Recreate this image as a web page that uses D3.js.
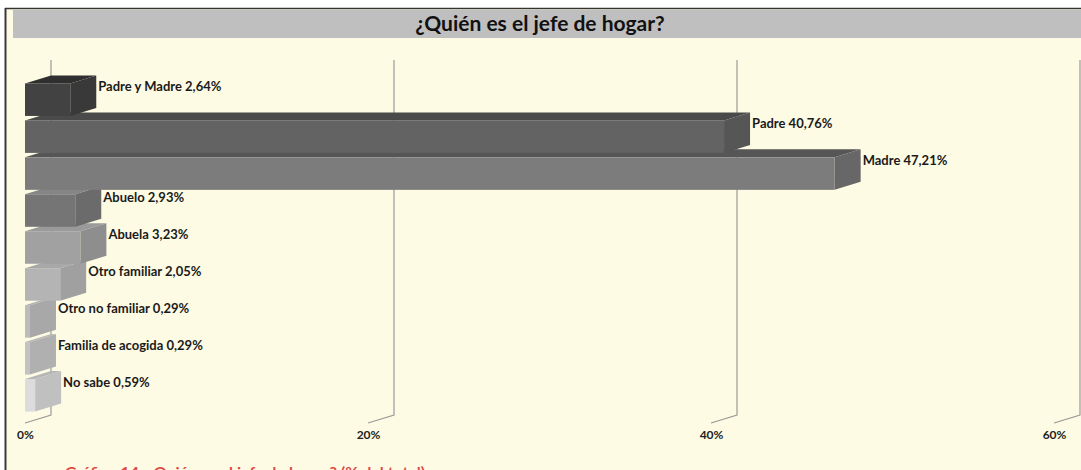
<!DOCTYPE html>
<html>
<head>
<meta charset="utf-8">
<script src="https://cdn.jsdelivr.net/npm/d3@7"></script>
<style>
  html, body { margin: 0; padding: 0; background: #ffffff; }
  svg { display: block; }
</style>
</head>
<body>
<script>
// ---- Data ----
const categories = ["Padre y Madre", "Padre", "Madre", "Abuelo", "Abuela", "Otro familiar", "Otro no familiar", "Familia de acogida", "No sabe"];
const values = [2.64, 40.76, 47.21, 2.93, 3.23, 2.05, 0.29, 0.29, 0.59];
const tickValues = [0, 20, 40, 60];
const tickLabels = ["0%", "20%", "40%", "60%"];
const title = "¿Quién es el jefe de hogar?";
const footnote = "Gráfico 14. ¿Quién es el jefe de hogar? (% del total)";

// palette per bar: [front, top, side]
const palette = [
  ["#424242", "#2f2f2f", "#393939"],
  ["#636363", "#4a4a4a", "#565656"],
  ["#7c7c7c", "#565656", "#676767"],
  ["#757575", "#858585", "#6b6b6b"],
  ["#a1a1a1", "#9a9a9a", "#8e8e8e"],
  ["#b4b4b4", "#a8a8a8", "#a0a0a0"],
  ["#bcbcbc", "#b0b0b0", "#a8a8a8"],
  ["#c3c3c3", "#b8b8b8", "#b0b0b0"],
  ["#dcdcdc", "#b6b6b6", "#c0c0c0"]
];

const W = 1081, H = 470;
const DX = 26, DY = -8;
const FONT = "Lato, 'Open Sans', sans-serif";
const fmt = v => d3.format(".2f")(v).replace(".", ",") + "%";

const svg = d3.select("body").append("svg").attr("width", W).attr("height", H);

// frame / background
svg.append("rect").attr("x", 5).attr("y", 8).attr("width", W - 5).attr("height", H - 8).attr("fill", "#fefbe4");
svg.append("rect").attr("x", 13).attr("y", 10).attr("width", W - 13).attr("height", 28).attr("fill", "#bfbfbf");
svg.append("line").attr("x1", 5).attr("x2", W).attr("y1", 8.5).attr("y2", 8.5).attr("stroke", "#333").attr("stroke-width", 1.5);
svg.append("line").attr("x1", 5.5).attr("x2", 5.5).attr("y1", 8).attr("y2", H).attr("stroke", "#3a3a3a").attr("stroke-width", 2);

svg.append("text").attr("x", 540).attr("y", 31).attr("text-anchor", "middle")
  .attr("font-family", FONT).attr("font-weight", "bold").attr("font-size", 21)
  .attr("fill", "#111").text(title);

// scales
const x = d3.scaleLinear().domain([0, 60]).range([25, 1054]);
const y = d3.scaleBand().domain(categories).range([79, 416]).padding(0.12);
const bw = y.bandwidth();

// back-wall gridlines with floor diagonal
const gridTop = 60, gridBottom = 415;
const grid = svg.append("g");
tickValues.forEach(t => {
  const xb = x(t) + DX;
  grid.append("path")
    .attr("d", `M${xb},${gridTop} L${xb},${gridBottom} L${x(t)},${gridBottom - DY}`)
    .attr("fill", "none").attr("stroke", "#9a9a9a").attr("stroke-width", 1.2);
});

// tick labels
const axis = d3.axisBottom(x).tickValues(tickValues).tickFormat((d, i) => tickLabels[i]).tickSize(0);
const ax = svg.append("g").attr("transform", `translate(0, ${gridBottom - DY + 4})`).call(axis);
ax.select(".domain").remove();
ax.selectAll("text").attr("font-family", FONT).attr("font-weight", "bold")
  .attr("font-size", 12).attr("fill", "#222");

// bars (draw bottom first so upper bars overlap)
const data = categories.map((c, i) => ({ c, v: values[i], i }));
const bars = svg.append("g");
data.slice().reverse().forEach(d => {
  const x0 = x(0), x1 = x(d.v), y0 = y(d.c), col = palette[d.i];
  const g = bars.append("g");
  g.append("path")
    .attr("d", `M${x0},${y0} L${x1},${y0} L${x1 + DX},${y0 + DY} L${x0 + DX},${y0 + DY} Z`)
    .attr("fill", col[1]);
  g.append("path")
    .attr("d", `M${x1},${y0} L${x1 + DX},${y0 + DY} L${x1 + DX},${y0 + bw + DY} L${x1},${y0 + bw} Z`)
    .attr("fill", col[2]);
  g.append("rect").attr("x", x0).attr("y", y0).attr("width", x1 - x0).attr("height", bw).attr("fill", col[0]);
});

// labels
svg.append("g").selectAll("text").data(data).join("text")
  .attr("x", d => x(d.v) + DX + 2)
  .attr("y", d => y(d.c) + 8)
  .attr("font-family", FONT).attr("font-weight", "bold").attr("font-size", 13)
  .attr("fill", "#1a1a1a")
  .text(d => d.c + " " + fmt(d.v));

// cut-off footnote at bottom (as in the reference)
svg.append("text").attr("x", 65).attr("y", 478)
  .attr("font-family", FONT).attr("font-weight", "bold").attr("font-size", 16)
  .attr("fill", "#e04a44").text(footnote);
</script>
</body>
</html>
